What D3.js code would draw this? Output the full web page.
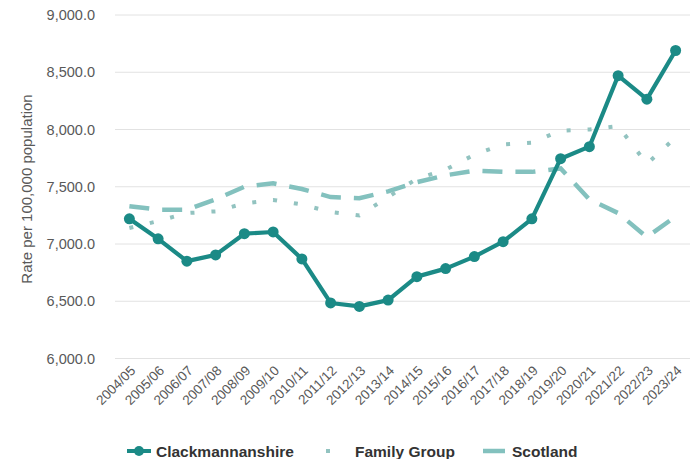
<!DOCTYPE html>
<html>
<head>
<meta charset="utf-8">
<script src="https://cdn.jsdelivr.net/npm/d3@7/dist/d3.min.js"></script>
<style>
  html, body { margin: 0; padding: 0; background: #ffffff; }
  svg { display: block; font-family: "Liberation Sans", Arial, sans-serif; }
</style>
</head>
<body>
<svg id="chart" width="693" height="459"></svg>
<script>
// Years on the x axis
const years = ["2004/05","2005/06","2006/07","2007/08","2008/09","2009/10","2010/11",
  "2011/12","2012/13","2013/14","2014/15","2015/16","2016/17","2017/18","2018/19",
  "2019/20","2020/21","2021/22","2022/23","2023/24"];

// Rate per 100,000 population
const clackmannanshire = [7220,7045,6850,6905,7090,7105,6870,6485,6455,6510,6715,6785,6890,7020,7220,7745,7850,8470,8265,8690];
const familyGroup      = [7140,7200,7270,7285,7355,7385,7345,7280,7250,7410,7570,7650,7780,7870,7885,7990,8000,8030,7700,7930];
const scotland         = [7330,7300,7300,7390,7500,7530,7480,7410,7400,7460,7540,7600,7640,7630,7630,7660,7390,7270,7060,7240];

const yTicks = [6000,6500,7000,7500,8000,8500,9000];
const seriesNames = ["Clackmannanshire","Family Group","Scotland"];

const colClack = "#1b8a86";
const colFamily = "#92c3c0";
const colScot = "#83c1be";
const textCol = "#595959";

const svg = d3.select("#chart");

const x = d3.scalePoint().domain(years).range([115, 690]).padding(0.5);
const y = d3.scaleLinear().domain([6000, 9000]).range([358.5, 15]);

// Horizontal gridlines
svg.append("g").selectAll("line").data(yTicks).join("line")
  .attr("x1", 115).attr("x2", 690)
  .attr("y1", d => y(d)).attr("y2", d => y(d))
  .attr("stroke", "#e2e2e2").attr("stroke-width", 1);

// Y axis labels
const yAxis = d3.axisLeft(y).tickValues(yTicks).tickSize(0).tickPadding(0)
  .tickFormat(d3.format(",.1f"));
const yg = svg.append("g").attr("transform", "translate(95,0)").call(yAxis);
yg.select(".domain").remove();
yg.selectAll("text").attr("fill", textCol).attr("font-size", "14.5px")
  .attr("font-family", "'Liberation Sans', Arial, sans-serif");

// Y axis title
svg.append("text")
  .attr("transform", "translate(32,189) rotate(-90)")
  .attr("text-anchor", "middle")
  .attr("fill", textCol).attr("font-size", "15px")
  .text("Rate per 100,000 population");

// X axis labels, rotated
const xAxis = d3.axisBottom(x).tickSize(0).tickPadding(0);
const xg = svg.append("g").attr("transform", "translate(0,368)").call(xAxis);
xg.select(".domain").remove();
xg.selectAll("text")
  .attr("fill", textCol).attr("font-size", "13.5px")
  .attr("font-family", "'Liberation Sans', Arial, sans-serif")
  .attr("text-anchor", "end")
  .attr("dy", "0.35em")
  .attr("transform", "translate(3,0) rotate(-45)");

const line = d3.line().x((d, i) => x(years[i])).y(d => y(d));

// Scotland (dashed)
svg.append("path").datum(scotland)
  .attr("d", line).attr("fill", "none")
  .attr("stroke", colScot).attr("stroke-width", 4.5)
  .attr("stroke-dasharray", "20,13");

// Family Group (dotted)
svg.append("path").datum(familyGroup)
  .attr("d", line).attr("fill", "none")
  .attr("stroke", colFamily).attr("stroke-width", 4)
  .attr("stroke-dasharray", "4,17");

// Clackmannanshire (solid with markers)
svg.append("path").datum(clackmannanshire)
  .attr("d", line).attr("fill", "none")
  .attr("stroke", colClack).attr("stroke-width", 4.2)
  .attr("stroke-linejoin", "round");
svg.append("g").selectAll("circle").data(clackmannanshire).join("circle")
  .attr("cx", (d, i) => x(years[i])).attr("cy", d => y(d))
  .attr("r", 5.5).attr("fill", colClack);

// Legend
const legY = 451;
const leg = svg.append("g");
leg.append("line").attr("x1", 127).attr("x2", 151).attr("y1", legY).attr("y2", legY)
  .attr("stroke", colClack).attr("stroke-width", 4);
leg.append("circle").attr("cx", 139).attr("cy", legY).attr("r", 5).attr("fill", colClack);
leg.append("rect").attr("x", 326).attr("y", legY - 2).attr("width", 4).attr("height", 4)
  .attr("fill", colFamily);
leg.append("line").attr("x1", 483).attr("x2", 505).attr("y1", legY).attr("y2", legY)
  .attr("stroke", colScot).attr("stroke-width", 4.5);
const legX = [156, 355, 512];
leg.selectAll("text").data(seriesNames).join("text")
  .attr("x", (d, i) => legX[i]).attr("y", legY + 5.5)
  .attr("fill", "#333333").attr("font-size", "15.5px").attr("font-weight", "bold")
  .text(d => d);
</script>
</body>
</html>
